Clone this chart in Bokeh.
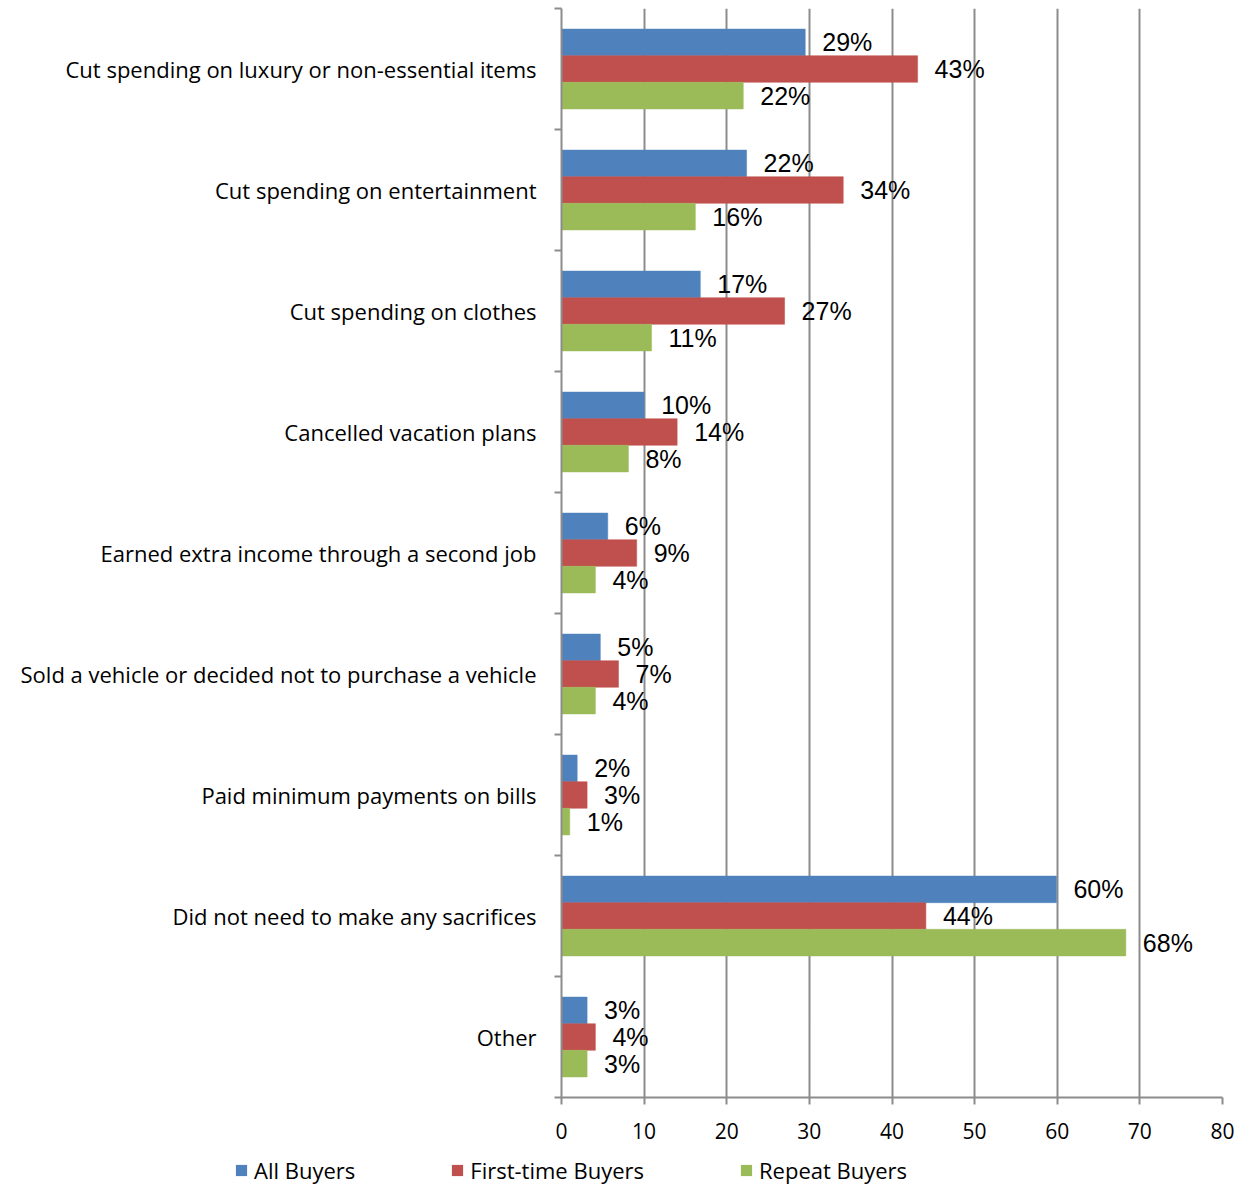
from bokeh.plotting import figure
from bokeh.models import (Range1d, FixedTicker, ColumnDataSource, Legend, LegendItem, LabelSet)
from bokeh.core.properties import value
from bokeh.layouts import column
from bokeh.embed import file_html
from bokeh.resources import INLINE

categories = [
    "Cut spending on luxury or non-essential items",
    "Cut spending on entertainment",
    "Cut spending on clothes",
    "Cancelled vacation plans",
    "Earned extra income through a second job",
    "Sold a vehicle or decided not to purchase a vehicle",
    "Paid minimum payments on bills",
    "Did not need to make any sacrifices",
    "Other",
]
series_names = ["All Buyers", "First-time Buyers", "Repeat Buyers"]
all_buyers = [29.5, 22.4, 16.8, 10.0, 5.6, 4.7, 1.9, 59.9, 3.1]
first_time = [43.1, 34.1, 27.0, 14.0, 9.1, 6.9, 3.1, 44.1, 4.1]
repeat = [22.0, 16.2, 10.9, 8.1, 4.1, 4.1, 1.0, 68.3, 3.1]
all_labels = ["29%", "22%", "17%", "10%", "6%", "5%", "2%", "60%", "3%"]
first_labels = ["43%", "34%", "27%", "14%", "9%", "7%", "3%", "44%", "4%"]
repeat_labels = ["22%", "16%", "11%", "8%", "4%", "4%", "1%", "68%", "3%"]
x_ticks = [0, 10, 20, 30, 40, 50, 60, 70, 80]

colors = ["#4F81BD", "#C0504D", "#9BBB59"]
offsets = [-0.22, 0.0, 0.22]
bar_h = 0.22

n = len(categories)
centers = [i + 0.5 for i in range(n)]
bounds = [float(i) for i in range(n + 1)]

GRAY = "#8c8c8c"
LEG_H = 40

p = figure(width=1247, height=1188 - LEG_H, output_backend="svg", toolbar_location=None,
           x_range=Range1d(0, 80), y_range=Range1d(n, 0),
           min_border_left=561, min_border_right=25, min_border_top=8,
           min_border_bottom=1188 - LEG_H - 1097)
p.outline_line_color = None
p.background_fill_color = "white"
p.border_fill_color = "white"

# x axis
p.xaxis.ticker = FixedTicker(ticks=x_ticks)
p.xaxis.axis_line_color = GRAY
p.xaxis.axis_line_width = 2
p.xaxis.major_tick_line_color = GRAY
p.xaxis.major_tick_line_width = 2
p.xaxis.major_tick_out = 7
p.xaxis.major_tick_in = 0
p.xaxis.minor_tick_line_color = None
p.xaxis.major_label_text_font = "Open Sans"
p.xaxis.major_label_text_font_size = "21px"
p.xaxis.major_label_text_color = "black"
p.xaxis.major_label_standoff = 18

# y axis: labels at centers, ticks at boundaries via minor ticks
p.yaxis.ticker = FixedTicker(ticks=centers, minor_ticks=bounds)
p.yaxis.major_label_overrides = {c: categories[i] for i, c in enumerate(centers)}
p.yaxis.axis_line_color = GRAY
p.yaxis.axis_line_width = 2
p.yaxis.major_tick_line_color = None
p.yaxis.major_tick_out = 0
p.yaxis.major_tick_in = 0
p.yaxis.minor_tick_line_color = GRAY
p.yaxis.minor_tick_line_width = 2
p.yaxis.minor_tick_out = 7
p.yaxis.minor_tick_in = 0
p.yaxis.major_label_text_font = "Open Sans"
p.yaxis.major_label_text_font_size = "22px"
p.yaxis.major_label_text_color = "black"
p.yaxis.major_label_standoff = 18

p.ygrid.grid_line_color = None
p.xgrid.ticker = FixedTicker(ticks=x_ticks[1:])
p.xgrid.grid_line_color = GRAY
p.xgrid.grid_line_width = 2

sources = []
for vals, labs, col, off in zip([all_buyers, first_time, repeat],
                                [all_labels, first_labels, repeat_labels], colors, offsets):
    src = ColumnDataSource(dict(y=[c + off for c in centers], v=vals, lab=labs))
    sources.append(src)
    p.hbar(y="y", right="v", left=0, height=bar_h, source=src,
           fill_color=col, line_color=col, line_width=0.5)
    ls = LabelSet(x="v", y="y", text="lab", source=src, x_offset=17,
                  text_baseline="middle", text_align="left",
                  text_font=value("Liberation Sans"), text_font_size="25px", text_color="black")
    p.add_layout(ls)

# legend in its own strip below the chart (proxy bars lie outside its view)
lf = figure(width=1247, height=LEG_H, output_backend="svg", toolbar_location=None,
            x_range=Range1d(-20, -19), y_range=Range1d(-20, -19),
            min_border_left=0, min_border_right=0, min_border_top=0, min_border_bottom=0)
lf.frame_align = False
lf.outline_line_color = None
lf.axis.visible = False
lf.grid.visible = False
leg_renderers = []
for src, col in zip(sources, colors):
    leg_renderers.append(lf.hbar(y="y", right="v", left=0, height=0, source=src,
                                 fill_color=col, line_color=None))
legend = Legend(items=[LegendItem(label=nm, renderers=[r]) for nm, r in zip(series_names, leg_renderers)],
                orientation="horizontal", location=(234, 3),
                padding=0, margin=0, spacing=95, label_standoff=6,
                glyph_width=14, glyph_height=14, label_height=20,
                label_text_font="Open Sans", label_text_font_size="22px",
                label_text_color="black",
                background_fill_alpha=0, border_line_color=None)
lf.add_layout(legend, "center")

layout = column(p, lf, spacing=0)
open("out.html", "w").write(file_html(layout, INLINE))
